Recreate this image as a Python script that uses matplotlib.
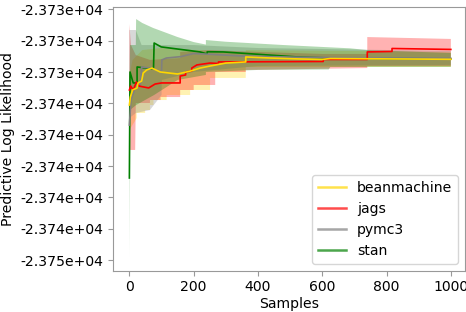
import numpy as np
import matplotlib
matplotlib.use("Agg")
import matplotlib.pyplot as plt
from matplotlib.lines import Line2D
from matplotlib.ticker import FormatStrFormatter

# ---- data (sample index, predictive log likelihood) ----
stan_x = [0, 2, 12, 24, 24, 75, 77, 99, 220, 242, 242, 292, 522, 625, 1000]
stan_mean = [-23740.76, -23733.99, -23734.69, -23734.69, -23733.67, -23733.80, -23732.14,
             -23732.39, -23732.71, -23732.84, -23732.70, -23732.71, -23733.03, -23733.10, -23733.16]
stan_hi_x = [0, 2, 20, 21, 40, 74, 116, 150, 200, 238, 238, 300, 480, 687, 740, 1000]
stan_hi = [-23735.65, -23732.27, -23732.27, -23730.61, -23730.86, -23731.18, -23731.50, -23731.76,
           -23732.08, -23732.24, -23731.95, -23732.06, -23732.27, -23732.48, -23732.59, -23732.78]
stan_lo_x = [0, 2, 21, 77, 150, 238, 238, 400, 620, 625, 1000]
stan_lo = [-23745.87, -23736.42, -23736.10, -23735.46, -23734.50, -23734.18, -23733.99,
           -23733.86, -23733.83, -23733.67, -23733.67]

jags_x = [0, 4, 12, 22, 30, 60, 80, 100, 158, 158, 175, 175, 194, 194, 210, 251, 277, 277,
          603, 603, 740, 740, 817, 817, 1000]
jags_mean = [-23735.14, -23734.89, -23735.14, -23734.63, -23734.89, -23735.01, -23734.76,
             -23734.69, -23734.69, -23734.25, -23734.18, -23733.99, -23733.93, -23733.74,
             -23733.54, -23733.42, -23733.45, -23733.35, -23733.32, -23733.19, -23733.19,
             -23732.71, -23732.68, -23732.49, -23732.55]
jags_hi_x = [0, 5, 20, 64, 158, 158, 250, 400, 603, 740, 740, 1000]
jags_hi = [-23730.93, -23732.27, -23732.91, -23733.22, -23733.10, -23732.71, -23732.59,
           -23732.71, -23732.84, -23732.84, -23731.76, -23731.88]
jags_lo_x = [0, 18, 20, 64, 64, 97, 97, 158, 158, 200, 200, 267, 267, 362, 362, 740, 740, 1000]
jags_lo = [-23738.97, -23738.97, -23735.97, -23735.97, -23735.78, -23735.78, -23735.59,
           -23735.59, -23735.14, -23735.14, -23734.82, -23734.82, -23733.99, -23733.99,
           -23733.86, -23733.74, -23733.61, -23733.61]

bm_x = [0, 3, 10, 24, 27, 38, 43, 54, 70, 96, 150, 190, 220, 251, 300, 362, 362, 440, 530,
        600, 625, 1000]
bm_mean = [-23736.10, -23735.59, -23735.14, -23735.01, -23734.69, -23734.57, -23734.06,
           -23733.86, -23733.74, -23733.99, -23734.12, -23733.93, -23733.74, -23733.61,
           -23733.42, -23733.35, -23733.03, -23733.10, -23733.16, -23733.19, -23733.13, -23733.18]
bm_hi_x = [0, 10, 40, 100, 200, 362, 362, 1000]
bm_hi = [-23734.18, -23733.22, -23732.59, -23732.46, -23732.59, -23732.71, -23732.59, -23732.71]
bm_lo_x = [0, 23, 23, 49, 49, 64, 64, 75, 75, 116, 116, 189, 189, 251, 251, 362, 362, 1000]
bm_lo = [-23737.70, -23736.93, -23736.61, -23736.61, -23736.42, -23736.42, -23736.10,
         -23736.10, -23735.78, -23735.78, -23735.46, -23735.46, -23735.14, -23735.14,
         -23734.37, -23734.37, -23733.67, -23733.67]

pm_x = [0, 5, 18, 33, 36, 38, 64, 85, 100, 101, 115, 160, 200, 250, 350, 530, 1000]
pm_mean = [-23737.38, -23735.78, -23735.01, -23734.89, -23734.37, -23733.67, -23733.74,
           -23733.86, -23733.99, -23733.22, -23733.10, -23733.01, -23732.81, -23732.86,
           -23732.97, -23733.05, -23733.12]
pm_hi_x = [0, 20, 38, 100, 200, 400, 1000]
pm_hi = [-23731.31, -23731.31, -23732.27, -23732.27, -23732.27, -23732.46, -23732.65]
pm_lo_x = [0, 20, 64, 100, 101, 200, 400, 1000]
pm_lo = [-23736.93, -23736.61, -23736.42, -23735.46, -23734.50, -23733.99, -23733.61, -23733.54]

names = ["beanmachine", "jags", "pymc3", "stan"]
colors = ["gold", "red", "gray", "green"]
yticks = [-23746, -23744, -23742, -23740, -23738, -23736, -23734, -23732, -23730]

series = {
    "beanmachine": (bm_x, bm_mean, bm_hi_x, bm_hi, bm_lo_x, bm_lo),
    "jags": (jags_x, jags_mean, jags_hi_x, jags_hi, jags_lo_x, jags_lo),
    "pymc3": (pm_x, pm_mean, pm_hi_x, pm_hi, pm_lo_x, pm_lo),
    "stan": (stan_x, stan_mean, stan_hi_x, stan_hi, stan_lo_x, stan_lo),
}

plt.rcParams["font.family"] = ["DejaVu Sans"]
plt.rcParams["font.size"] = 10.1

fig = plt.figure(figsize=(4.66, 3.12), dpi=100)
ax = fig.add_axes([113.3 / 466, (312 - 270.7) / 312, (465 - 113.3) / 466, (270.7 - 7.3) / 312])

for name, col in zip(names, colors):
    x, m, hx, h, lx, l = series[name]
    ax.fill(np.r_[hx, lx[::-1]], np.r_[h, l[::-1]], color=col, alpha=0.3, lw=0)

draw_order = ["stan", "pymc3", "jags", "beanmachine"]
for name in draw_order:
    col = colors[names.index(name)]
    x, m = series[name][0], series[name][1]
    ax.plot(x, m, color=col, lw=1.2)

ax.set_xlim(-50, 1044)
ax.set_ylim(-23746.68, -23729.86)
ax.set_yticks(yticks)
ax.set_xticks([0, 200, 400, 600, 800, 1000])
ax.yaxis.set_major_formatter(FormatStrFormatter("%.3e"))
ax.set_xlabel("Samples", labelpad=2)
ax.set_ylabel("Predictive Log Likelihood", labelpad=4)
for sp in ax.spines.values():
    sp.set_color("#999999")
ax.tick_params(color="#999999")

handles = [Line2D([], [], color=c, lw=1.8, alpha=0.7) for c in colors]
ax.legend(handles, names, loc="lower right", framealpha=0.8, edgecolor="#cccccc")

fig.savefig("out.png", dpi=100)
